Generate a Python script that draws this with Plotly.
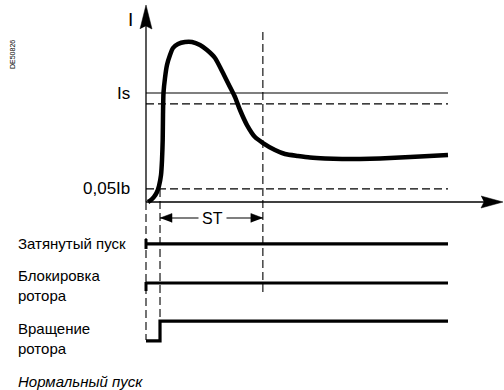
import plotly.graph_objects as go

# ---------------- data ----------------
curve_t = [0.66, 1.66, 2.65, 3.64, 4.30, 4.97, 5.30, 5.53, 5.63, 5.79, 6.29, 6.95, 7.95, 8.94,
           10.6, 12.91, 15.23, 17.88, 20.20, 22.85, 25.50, 27.81, 29.47, 31.13, 33.44, 36.09,
           38.74, 42.72, 46.03, 50.33, 54.30, 59.27, 64.90, 70.86, 77.48, 84.11, 90.73, 100.0]
curve_i = [0.0, 0.018, 0.046, 0.092, 0.147, 0.248, 0.385, 0.569, 0.798, 1.0, 1.138, 1.257,
           1.349, 1.413, 1.450, 1.468, 1.468, 1.440, 1.394, 1.321, 1.183, 1.055, 0.963, 0.844,
           0.706, 0.596, 0.541, 0.477, 0.440, 0.422, 0.408, 0.399, 0.394, 0.394, 0.399, 0.408,
           0.417, 0.431]

I_s = 1.0            # Is threshold
I_s_hyst = 0.9       # dashed line under Is
I_low = 0.12         # 0,05Ib
t_zero = 0.0
t_start = 4.64       # current exceeds 0,05Ib
t_st = 38.7          # end of ST
t_end = 100.0

threshold_labels = ["Is", "0,05Ib"]
lane_labels = ["Затянутый пуск", "Блокировка<br>ротора", "Вращение<br>ротора"]
lane_levels = [-0.385, -0.743, -1.092]
rot_low_level = -1.275
caption = "Нормальный пуск"
doc_id = "DE50826"

# ---------------- figure ----------------
W, H = 504, 390
X0, SX = 146.0, 3.02     # pixel of t=0, pixels per time unit
Y0, SY = 202.0, 109.0    # pixel of I=0, pixels per current unit
xr = [-X0 / SX, (W - X0) / SX]
yr = [(Y0 - H) / SY, Y0 / SY]


def dt(px):
    return px / SX


def di(px):
    return px / SY


fig = go.Figure()


def line(xs, ys, width=1.2, dash=None, color="black", shape="spline"):
    fig.add_trace(go.Scatter(x=xs, y=ys, mode="lines", hoverinfo="skip", showlegend=False,
                             line=dict(color=color, width=width, dash=dash)))


def tri(xs, ys):
    fig.add_trace(go.Scatter(x=xs, y=ys, mode="lines", fill="toself", fillcolor="black",
                             hoverinfo="skip", showlegend=False,
                             line=dict(color="black", width=0.5)))


DASH = "8px,4px"

# thresholds
line([t_zero, t_end], [I_s, I_s], width=1.1)
line([t_zero, t_end], [I_s_hyst, I_s_hyst], width=1.1, dash=DASH)
line([t_zero, t_end], [I_low, I_low], width=1.1, dash=DASH)

# vertical dashed markers
line([t_zero, t_zero], [0, rot_low_level + di(1)], width=1.1, dash=DASH)
line([t_start, t_start], [I_low, lane_levels[2]], width=1.1, dash=DASH)
line([t_st, t_st], [1.56, -0.853], width=1.1, dash=DASH)

# axes
y_tip = yr[1] - di(5)
line([t_zero, t_zero], [0, y_tip - di(20)], width=1.3)
tri([t_zero - dt(6), t_zero, t_zero + dt(6), t_zero],
    [y_tip - di(24), y_tip, y_tip - di(24), y_tip - di(21)])
x_tip = xr[1] - dt(1)
line([t_zero, x_tip - dt(18)], [0, 0], width=1.3)
tri([x_tip - dt(22), x_tip, x_tip - dt(22), x_tip - dt(19)], [di(6), 0, -di(6), 0])

# ST dimension arrow
st_y = -0.147
line([t_start, t_st], [st_y, st_y], width=1.1)
tri([t_start, t_start + dt(12), t_start + dt(12)], [st_y, st_y + di(4.5), st_y - di(4.5)])
tri([t_st, t_st - dt(12), t_st - dt(12)], [st_y, st_y + di(4.5), st_y - di(4.5)])

# current curve
fig.add_trace(go.Scatter(x=curve_t, y=curve_i, mode="lines", hoverinfo="skip",
                         showlegend=False,
                         line=dict(color="black", width=4.5, shape="spline", smoothing=0.6)))

# status lanes
line([t_zero, t_end], [lane_levels[0], lane_levels[0]], width=3.2)
line([t_zero, t_zero], [lane_levels[0] + di(5), lane_levels[0] - di(5)], width=3)
line([t_zero, t_end], [lane_levels[1], lane_levels[1]], width=3.2)
line([t_zero, t_zero], [lane_levels[1] + di(1), lane_levels[1] - di(8)], width=3)
line([t_zero, t_start, t_start, t_end],
     [rot_low_level, rot_low_level, lane_levels[2], lane_levels[2]], width=3.2)

FONT = "Liberation Sans, Arial, sans-serif"


def text(x, y, s, size=16, xanchor="center", italic=False, angle=0, bg=None, pad=0):
    fig.add_annotation(x=x, y=y, xref="x", yref="y", text=s, showarrow=False,
                       xanchor=xanchor, yanchor="middle", textangle=angle, align="left",
                       bgcolor=bg, borderpad=pad,
                       font=dict(family=FONT, size=size, color="black",
                                 style="italic" if italic else "normal"))


text(dt(130 - X0), di(Y0 - 19), "I", size=19)
text(dt(131 - X0), I_s, threshold_labels[0], size=17, xanchor="right")
text(dt(131 - X0), I_low, threshold_labels[1], size=17, xanchor="right")
text(dt(212 - X0), st_y, "ST", size=16, bg="white", pad=3)

lab_x = dt(17 - X0)
text(lab_x, di(Y0 - 243), lane_labels[0], size=15, xanchor="left")
text(lab_x, di(Y0 - 285), lane_labels[1], size=15, xanchor="left")
text(lab_x, di(Y0 - 338), lane_labels[2], size=15, xanchor="left")
text(lab_x, di(Y0 - 381), caption, size=15, xanchor="left", italic=True)
text(dt(12 - X0), di(Y0 - 55), doc_id, size=7, angle=-90)

fig.update_layout(
    width=W, height=H, margin=dict(l=0, r=0, t=0, b=0),
    paper_bgcolor="white", plot_bgcolor="white", showlegend=False,
    xaxis=dict(range=xr, visible=False, fixedrange=True),
    yaxis=dict(range=yr, visible=False, fixedrange=True),
)

fig.write_html("out.html", config={"displayModeBar": False},
               post_script="document.body.style.margin='0';")
